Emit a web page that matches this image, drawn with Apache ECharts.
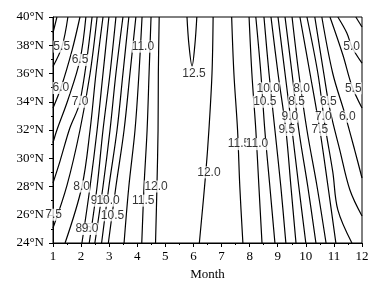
<!DOCTYPE html>
<html>
<head>
<meta charset="utf-8">
<title>Contour</title>
<script src="https://cdn.jsdelivr.net/npm/echarts@6/dist/echarts.min.js"></script>
</head>
<body style="margin:0">
<div id="main" style="width:384px;height:292px;"></div>
<script>
// contour lines as [month, latitude]
// west side (value rises with month)
var w50 = [[1.14,40],[1.0,38.87]];
var w55 = [[1.53,40],[1.32,37.9],[1.0,36.5]];
var w60 = [[1.96,40],[1.68,37.66],[1.28,34.97],[1.0,33.56]];
var w65 = [[2.17,40],[1.96,36.96],[1.53,34.12],[1.14,32.0],[1.0,31.1]];
var w70 = [[2.39,40],[1.96,34.0],[1.60,32.14],[1.25,29.8],[1.0,28.25]];
var w75 = [[2.57,40],[2.32,36],[1.96,32],[1.50,28.1],[1.0,25.06]];
var w80 = [[2.78,40],[2.53,36],[2.32,32],[2.03,28],[1.43,24]];
var w85 = [[2.99,40],[2.78,36],[2.57,32],[2.32,28],[2.03,24]];
var w90 = [[3.24,40],[3.03,36],[2.78,32],[2.57,28],[2.29,24]];
var w95 = [[3.49,40],[3.24,36],[3.03,32],[2.78,28],[2.49,24]];
var w100 = [[3.70,40],[3.49,36],[3.28,32],[2.99,28],[2.73,24]];
var w105 = [[3.95,40],[3.74,36],[3.53,32],[3.24,28],[2.97,24]];
var w110 = [[4.17,40],[4.06,36],[3.92,32],[3.70,28],[3.53,24]];
var w115 = [[4.49,40],[4.42,36],[4.35,32],[4.24,28],[4.16,24]];
var w120 = [[4.78,40],[4.75,36],[4.74,32],[4.70,28],[4.65,24]];
// closed 12.5 loop near the top
var top125 = [[5.77,40],[5.84,38.02],[5.95,36.53],[6.05,38.02],[6.12,40]];
// east side (value falls with month)
var e120 = [[6.70,40],[6.66,36],[6.55,32],[6.44,29],[6.21,24]];
var e115 = [[7.36,40],[7.44,36],[7.57,32],[7.65,28],[7.76,24]];
var e110 = [[7.98,40],[8.08,36],[8.22,32],[8.33,28],[8.44,24]];
var e105 = [[8.22,40],[8.40,36],[8.54,32],[8.72,28],[8.90,24]];
var e100 = [[8.51,40],[8.69,36],[8.90,32],[9.11,28],[9.29,24]];
var e95 = [[8.76,40],[9.01,36],[9.29,32],[9.47,28],[9.65,24]];
var e90 = [[9.01,40],[9.26,36],[9.51,32],[9.75,28],[10.00,24]];
var e85 = [[9.26,40],[9.51,36],[9.75,32],[10.07,28],[10.36,24]];
var e80 = [[9.51,40],[9.75,36],[10.04,32],[10.40,28],[10.72,24]];
var e75 = [[9.79,40],[10.15,36],[10.50,32],[10.79,28],[11.07,24]];
var e70 = [[10.04,40],[10.43,36],[10.68,32.35],[10.96,29.03],[11.14,26.34],[11.64,24]];
var e65 = [[10.32,40],[10.64,36],[10.86,33.42],[11.21,30.58],[11.57,27.75],[12,25.91]];
var e60 = [[10.57,40],[10.96,36],[11.38,33.2],[11.74,30.58],[12,28.6]];
var e55 = [[10.86,40],[11.32,37.31],[11.64,35.12],[12,33.56]];
var e50 = [[11.14,40],[11.46,38.87],[11.64,37.88],[12,36.74]];
var e45 = [[11.78,40],[12,39.29]];

var contourLines = [w50, w55, w60, w65, w70, w75, w80, w85, w90, w95, w100, w105, w110, w115, w120,
  top125,
  e120, e115, e110, e105, e100, e95, e90, e85, e80, e75, e70, e65, e60, e55, e50, e45];

// contour labels
var labelText = ['5.5','6.0','6.5','7.0','11.0','8.0','9.5','10.0','10.5','11.5','12.0','7.5','8.5','9.0',
  '12.5','12.0','11.5','11.0',
  '10.0','8.0','10.5','8.5','6.5','9.0','7.0','6.0','9.5','7.5','5.5','5.0'];
var labelPos = [[1.31,37.9],[1.28,34.97],[1.96,36.96],[1.96,34.0],[4.20,37.9],[2.02,28.0],[2.64,27.0],[2.96,27.0],
  [3.12,25.96],[4.21,27.0],[4.67,28.0],[1.02,26.0],[2.10,25.0],[2.32,25.0],
  [6.02,35.96],[6.55,29.0],[7.62,31.0],[8.26,31.0],
  [8.66,34.95],[9.85,34.95],[8.54,34.0],[9.67,34.0],[10.80,34.0],[9.43,32.94],[10.62,32.94],[11.48,32.94],
  [9.32,32.0],[10.50,32.0],[11.69,34.95],[11.63,37.9]];

var myChart = echarts.init(document.getElementById('main'));

var series = contourLines.map(function (pts) {
  return {
    type: 'line',
    data: pts,
    smooth: 0.35,
    symbol: 'none',
    silent: true,
    lineStyle: { color: '#000', width: 1.2 }
  };
});

series.push({
  type: 'scatter',
  symbolSize: 0,
  silent: true,
  z: 5,
  data: labelPos.map(function (p, i) { return { value: p, name: labelText[i] }; }),
  label: {
    show: true,
    position: 'inside',
    formatter: '{b}',
    fontFamily: 'Liberation Sans',
    fontSize: 12,
    color: '#000',
    backgroundColor: '#fff',
    padding: 0
  }
});

var serif = 'Liberation Serif';

var option = {
  animation: false,
  backgroundColor: '#fff',
  grid: {
    left: 53, right: 22, top: 17, bottom: 49,
    show: true, borderColor: '#000', borderWidth: 1
  },
  xAxis: {
    type: 'value',
    min: 1, max: 12, interval: 1,
    name: 'Month',
    nameLocation: 'middle',
    nameGap: 24,
    nameTextStyle: { fontFamily: serif, fontSize: 13, color: '#000' },
    axisLine: { lineStyle: { color: '#000', width: 1 } },
    axisTick: { show: true, length: 4, lineStyle: { color: '#000' } },
    minorTick: { show: true, splitNumber: 2, length: 2, lineStyle: { color: '#000' } },
    splitLine: { show: false },
    axisLabel: { fontFamily: serif, fontSize: 13, color: '#000', margin: 7 }
  },
  yAxis: {
    type: 'value',
    min: 24, max: 40, interval: 2,
    axisLine: { show: true, lineStyle: { color: '#000', width: 1 } },
    axisTick: { show: true, length: 4, lineStyle: { color: '#000' } },
    minorTick: { show: true, splitNumber: 2, length: 2, lineStyle: { color: '#000' } },
    splitLine: { show: false },
    axisLabel: {
      fontFamily: serif, fontSize: 13, color: '#000', margin: 9,
      formatter: function (v) { return v + '°N'; }
    }
  },
  series: series
};

myChart.setOption(option);
</script>
</body>
</html>
